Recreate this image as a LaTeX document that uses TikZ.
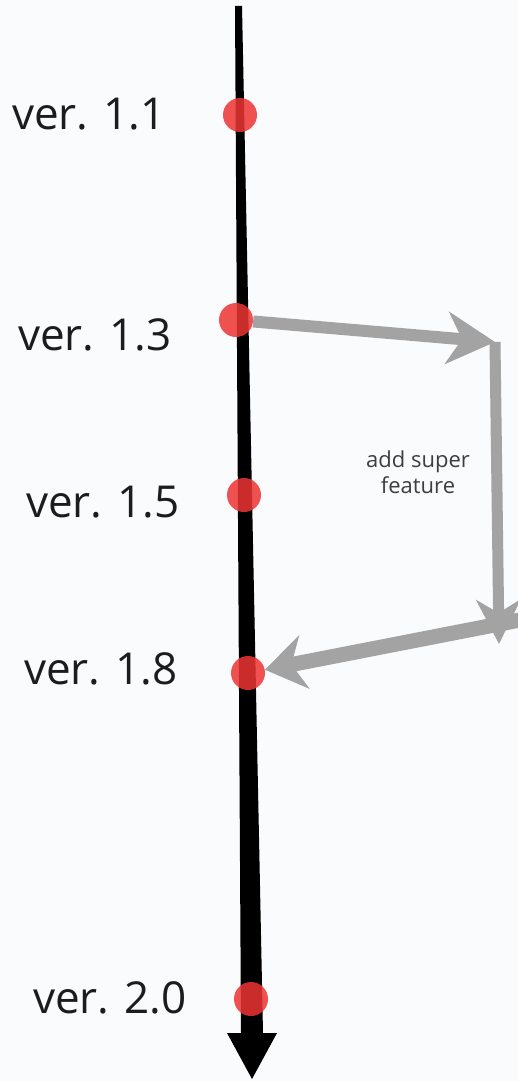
\documentclass[tikz,border=0pt]{standalone}
\usepackage{fontspec}
\setmainfont{Open Sans}
\usetikzlibrary{arrows.meta,calc}

\definecolor{paper}{RGB}{250,251,252}
\definecolor{verred}{RGB}{238,52,52}
\definecolor{branchgray}{RGB}{163,163,163}
\definecolor{labelink}{RGB}{28,28,28}

\begin{document}
\begin{tikzpicture}[
	%	style def
    x=1pt, y=-1pt,
    version dot/.style={circle, fill=verred, fill opacity=0.85, minimum size=34pt, inner sep=0pt},
    ver label/.style={anchor=base, text=labelink, font=\fontsize{44}{50}\selectfont},
    branch line/.style={draw=branchgray, line width=15pt, -{Stealth[length=48pt, width=52pt, inset=15pt]}, fill=branchgray},
    note/.style={align=center, text=labelink!85, font=\fontsize{22}{26}\selectfont}
    ]

	% canvas
	\useasboundingbox (0,0) rectangle (518,1081);
	\fill[paper] (0,0) rectangle (518,1081);

	% main time line, thin at the top and wide at the arrow
	\fill[black] (235,6) coordinate (top) -- (242,6) -- (263,1033) -- (277,1033)
		-- (252,1079) coordinate (bottom) -- (227,1033) -- (241,1033) -- cycle;

	% versions on the line
	\node[version dot] (v11) at (240,115) {};
	\node[version dot] (v13) at (236,320) {};
	\node[version dot] (v15) at (244,495) {};
	\node[version dot] (v18) at (248,673) {};
	\node[version dot] (v20) at (251,999) {};

	\node[ver label] (l11) at (89,129) {ver. 1.1};
	\node[ver label] (l13) at (95,350) {ver. 1.3};
	\node[ver label] (l15) at (103,517) {ver. 1.5};
	\node[ver label] (l18) at (101,684) {ver. 1.8};
	\node[ver label] (l20) at (110,1013) {ver. 2.0};

	% feature branch
	\coordinate (turnA) at (495,342);
	\coordinate (turnB) at (499,644);
	\coordinate (turnC) at (520,620);
	\draw[branch line, line width=12pt] (v13) -- (turnA);
	\draw[branch line, line width=11pt, -{Stealth[length=44pt, width=44pt, inset=13pt]}] (turnA) -- (turnB);
	\draw[branch line, -{Stealth[length=40pt, width=54pt, inset=13pt]}] (turnC) -- (v18);

	\node[note] (feat) at (418,472) {add super\\feature};
\end{tikzpicture}
\end{document}
